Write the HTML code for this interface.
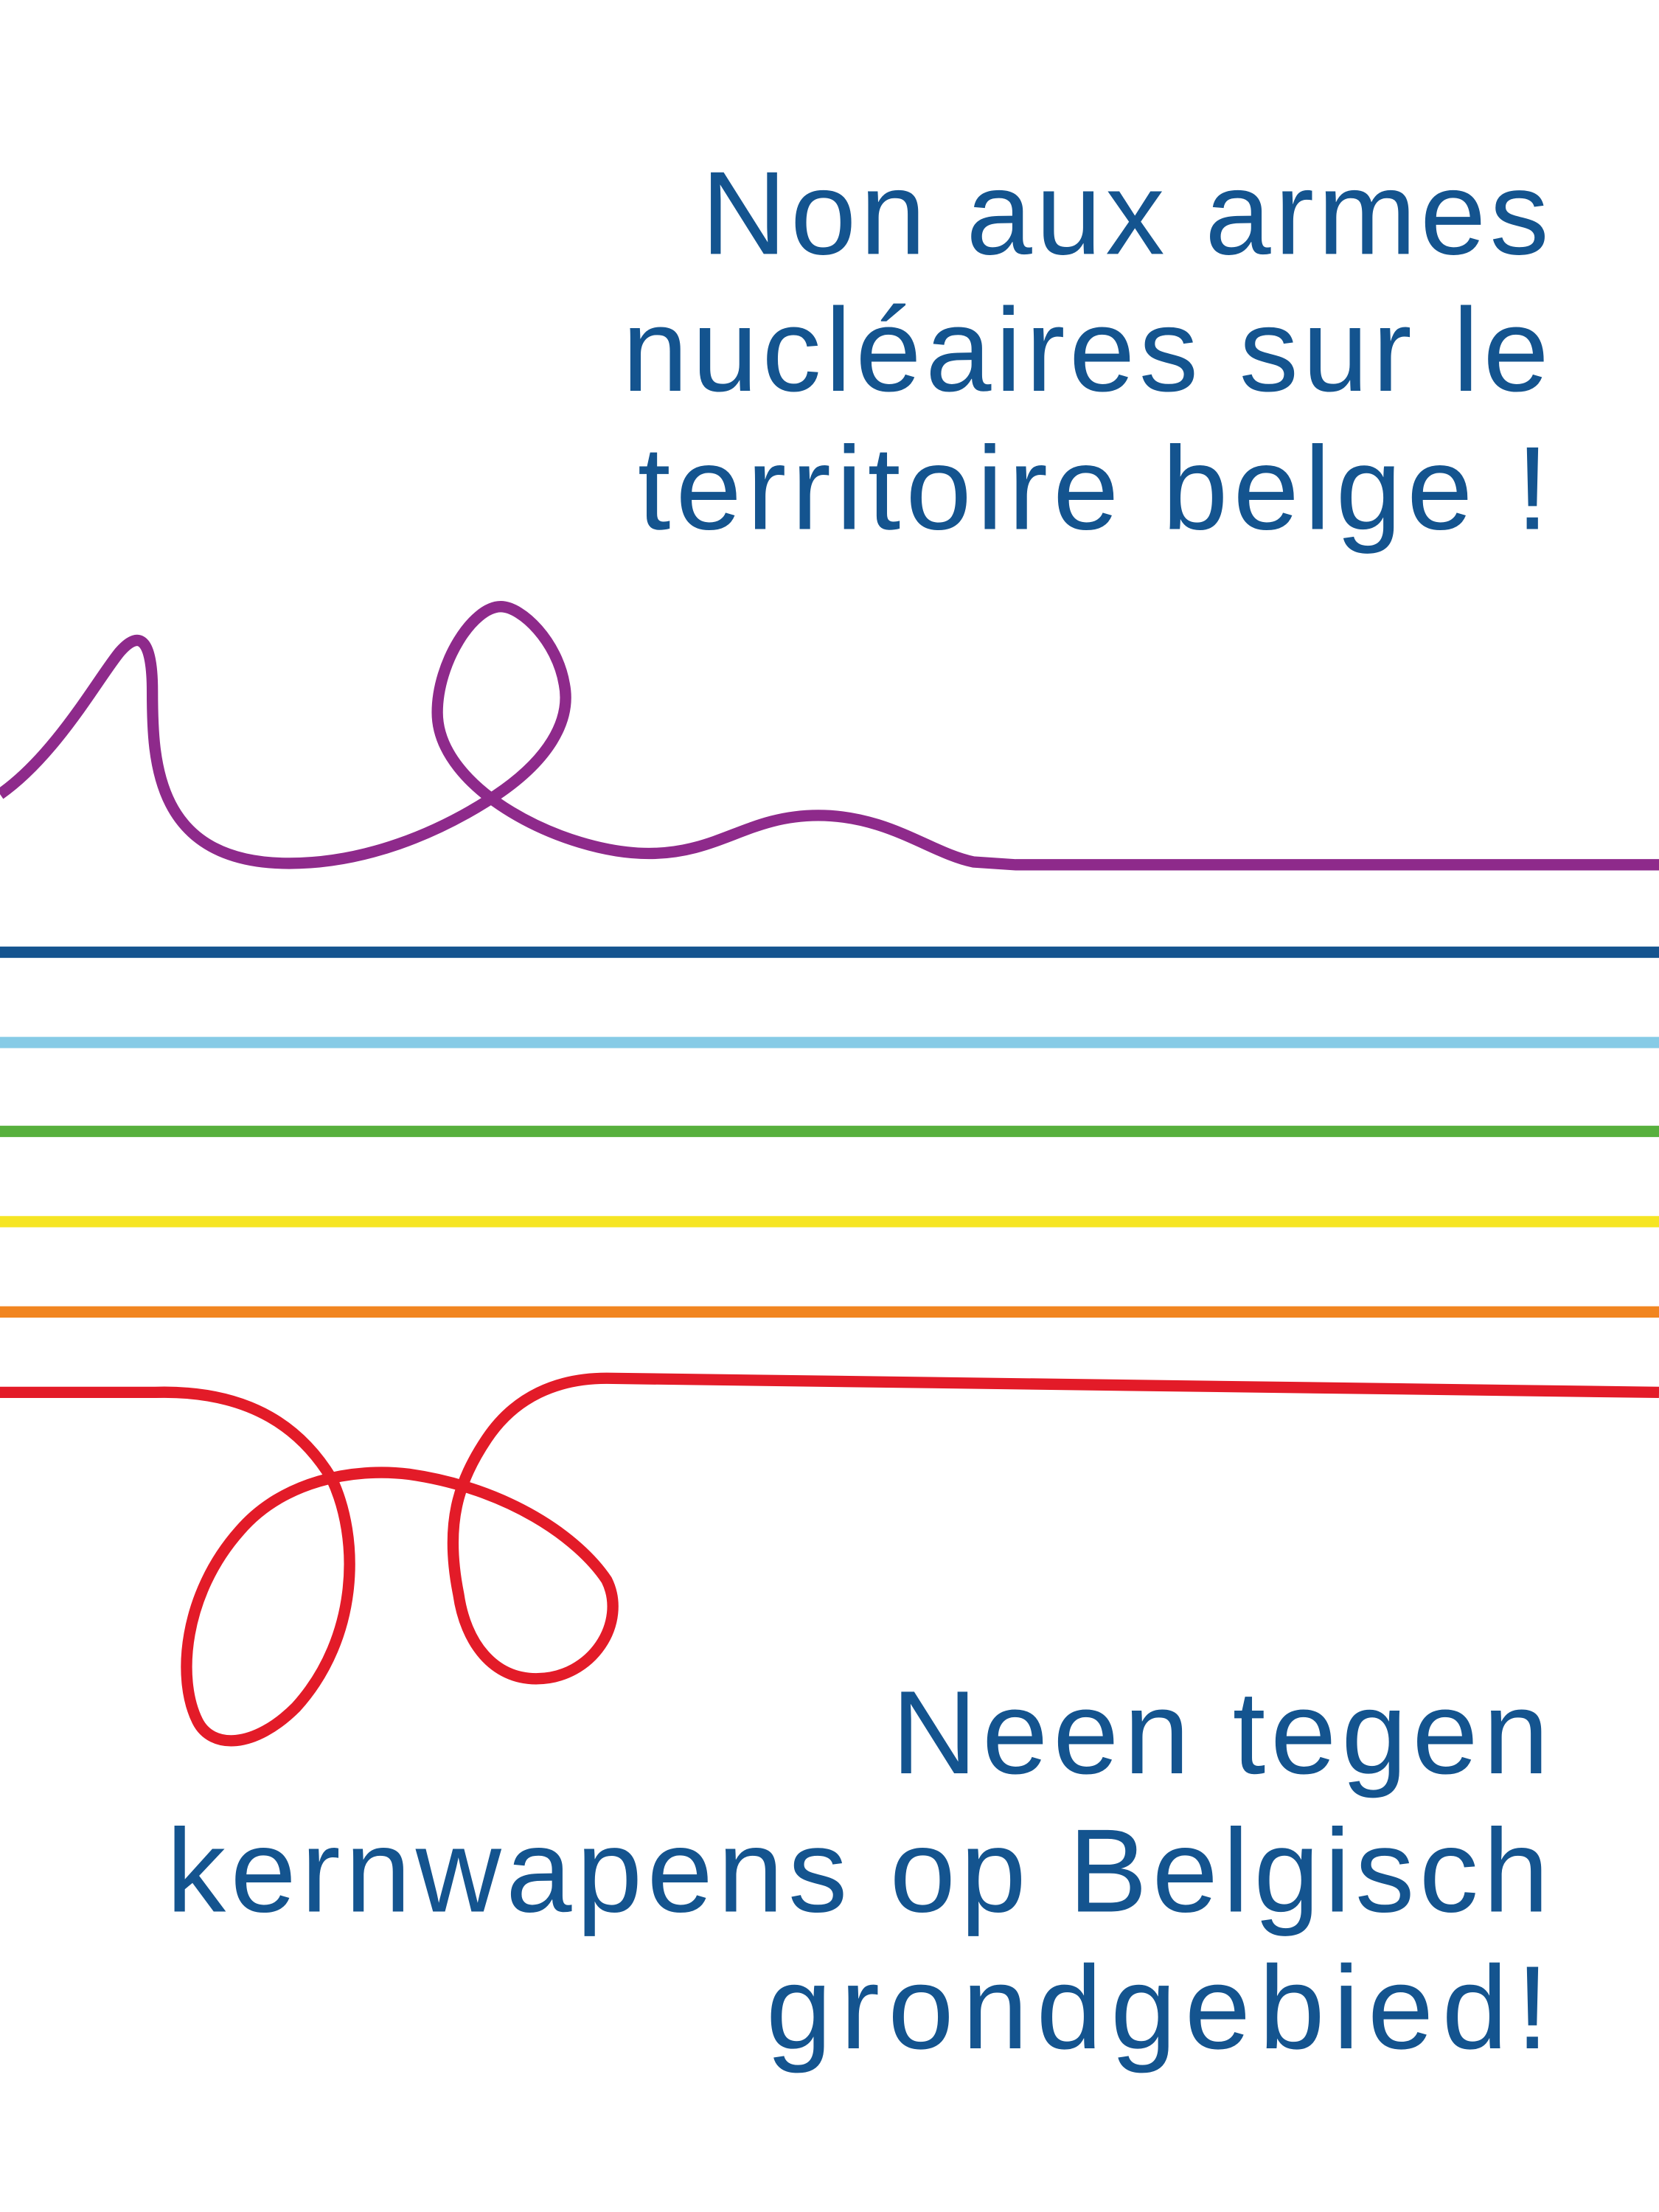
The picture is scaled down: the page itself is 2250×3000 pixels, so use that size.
<!DOCTYPE html>
<html><head><meta charset="utf-8"><style>html,body{margin:0;padding:0;background:#fff}svg{display:block}</style></head>
<body>
<svg width="2250" height="3000" viewBox="0 0 1176 1568" xmlns="http://www.w3.org/2000/svg">
<rect width="1176" height="1568" fill="#fff"/>
<g font-family="Liberation Sans, sans-serif" font-size="84" fill="#14548f" text-anchor="end" lengthAdjust="spacing">
<text x="1098" y="180" textLength="601" lengthAdjust="spacing">Non aux armes</text>
<text x="1098" y="277" textLength="657" lengthAdjust="spacing">nucléaires sur le</text>
<text x="1098" y="375" textLength="646" lengthAdjust="spacing">territoire belge !</text>
<text x="1098" y="1257" textLength="466" lengthAdjust="spacing">Neen tegen</text>
<text x="1098" y="1355" textLength="980" lengthAdjust="spacing">kernwapens op Belgisch</text>
<text x="1098" y="1452" textLength="555" lengthAdjust="spacing">grondgebied!</text>
</g>
<g fill="none" stroke-width="8">
<path stroke="#8e2a8b" d="M0,563 C40,535 70,480 85,462 C100,445 108,455 108,490 C108,540 110,612 205,612 C260,612 310,590 345,568 C390,540 405,510 400,485 C395,455 370,430 355,430 C335,430 310,470 310,505 C310,560 400,605 460,605 C510,605 530,578 580,578 C630,578 660,605 690,611 L720,613 L1176,613"/>
<line x1="0" y1="675" x2="1176" y2="675" stroke="#14548f"/>
<line x1="0" y1="739" x2="1176" y2="739" stroke="#86cbe6"/>
<line x1="0" y1="802" x2="1176" y2="802" stroke="#57b03d"/>
<line x1="0" y1="866" x2="1176" y2="866" stroke="#f6e523"/>
<line x1="0" y1="930" x2="1176" y2="930" stroke="#f18520"/>
<path stroke="#e31b28" d="M0,987 L110,987 C180,985 215,1015 235,1048 C255,1090 255,1160 210,1210 C180,1240 150,1240 140,1220 C125,1190 130,1130 170,1085 C200,1050 250,1040 290,1045 C360,1055 410,1090 430,1120 C445,1150 420,1190 380,1190 C350,1190 330,1165 325,1130 C315,1080 325,1050 345,1020 C365,990 395,977 430,977 L1176,987"/>
</g>
</svg>
</body></html>
